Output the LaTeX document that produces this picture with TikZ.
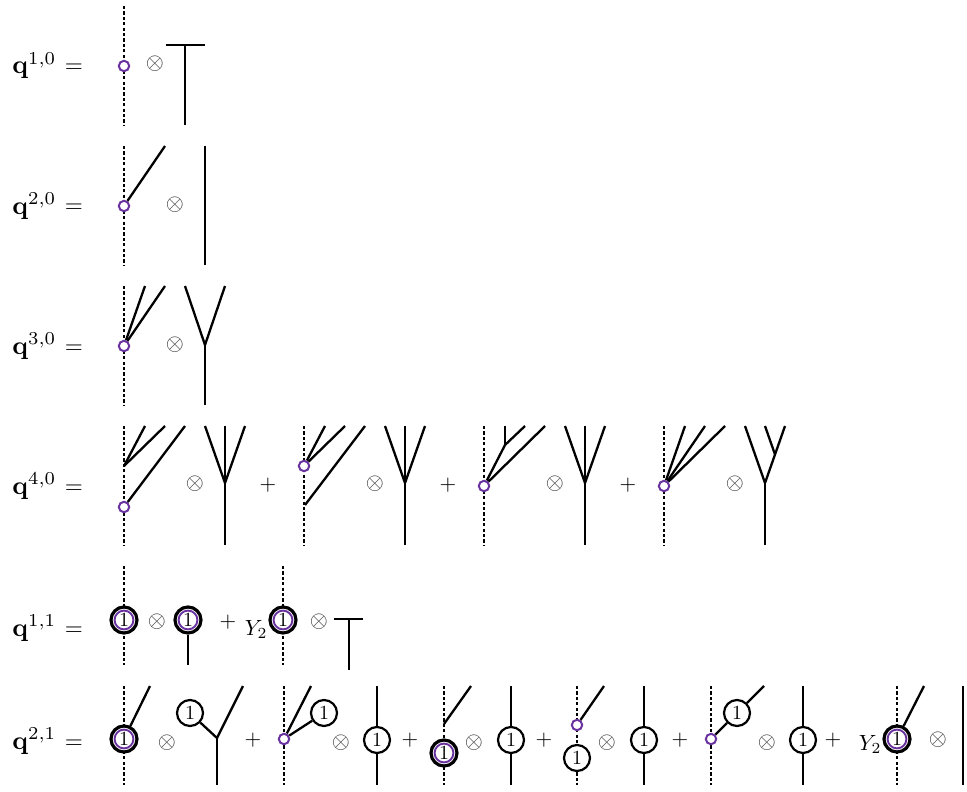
\documentclass[tikz,border=0pt]{standalone}
\usepackage{graphicx}
\definecolor{vio}{HTML}{6A329F}
\newcommand{\lbl}[1]{\scalebox{1.3}{$\mathbf{q}^{#1}$}}
\newcommand{\eqs}{\scalebox{1.16}{$=$}}
\newcommand{\ots}{\scalebox{1.16}{$\otimes$}}
\newcommand{\pls}{\scalebox{1.07}{$+$}}
\newcommand{\yts}{\scalebox{1.1}{$Y_2$}}
\begin{document}
\begin{tikzpicture}[x=0.5pt,y=-0.5pt,
  dl/.style={line width=1pt, dash pattern=on 1.6pt off 1.1pt},
  br/.style={line width=1.15pt},
  pv/.style={circle, draw=vio, fill=white, line width=1pt, minimum size=5.2pt, inner sep=0pt},
  one/.style={circle, draw, fill=white, line width=1.1pt, minimum size=13pt, inner sep=0pt, font=\fontsize{10}{12}\selectfont},
  dbl/.style={one, line width=1.6pt, path picture={\draw[vio,line width=0.95pt] (path picture bounding box.center) circle (4.7pt);}},
  lab/.style={anchor=base west, inner sep=0pt},
  eq/.style={anchor=base, inner sep=0pt},
  ot/.style={inner sep=0pt, text=black!80},
  pl/.style={inner sep=0pt},
  yy/.style={anchor=base east, inner sep=0pt},
  ]
\useasboundingbox (0,0) rectangle (967,791);

% ===== Row 1: q^{1,0}
\node[lab] (q10) at (12,74) {\lbl{1,0}};
\node[eq] (e10) at (74,73) {\eqs};
\coordinate (a1t) at (124,6); \coordinate (a1b) at (124,125);
\draw[dl] (a1t) -- (a1b);
\node[pv] (p10) at (124,66) {};
\node[ot] (o10) at (155,64) {\ots};
\coordinate (t1l) at (166,45); \coordinate (t1r) at (205,45);
\coordinate (t1m) at (185,45); \coordinate (t1b) at (185,125);
\draw[br] (t1l) -- (t1r);
\draw[br] (t1m) -- (t1b);

% ===== Row 2: q^{2,0}
\node[lab] (q20) at (12,214) {\lbl{2,0}};
\node[eq] (e20) at (74,213) {\eqs};
\coordinate (a2t) at (124,146); \coordinate (a2b) at (124,265);
\draw[dl] (a2t) -- (a2b);
\node[pv] (p20) at (124,206) {};
\coordinate (b2a) at (165,146);
\draw[br] (p20) -- (b2a);
\node[ot] (o20) at (175,205) {\ots};
\coordinate (v2t) at (205,146); \coordinate (v2b) at (205,265);
\draw[br] (v2t) -- (v2b);

% ===== Row 3: q^{3,0}
\node[lab] (q30) at (12,354) {\lbl{3,0}};
\node[eq] (e30) at (74,353) {\eqs};
\coordinate (a3t) at (124,286); \coordinate (a3b) at (124,405);
\draw[dl] (a3t) -- (a3b);
\node[pv] (p30) at (124,346) {};
\coordinate (b3a) at (145,286); \coordinate (b3b) at (165,286);
\draw[br] (p30) -- (b3a);
\draw[br] (p30) -- (b3b);
\node[ot] (o30) at (175,345) {\ots};
\coordinate (y3l) at (185,286); \coordinate (y3r) at (225,286);
\coordinate (y3v) at (205,345); \coordinate (y3b) at (205,405);
\draw[br] (y3l) -- (y3v) -- (y3r);
\draw[br] (y3v) -- (y3b);

% ===== Row 4: q^{4,0}
\node[lab] (q40) at (12,494) {\lbl{4,0}};
\node[eq] (e40) at (74,493) {\eqs};
% term A
\coordinate (a4t) at (124,426); \coordinate (a4b) at (124,545);
\draw[dl] (a4t) -- (a4b);
\coordinate (A4v) at (124,466);
\coordinate (A4a) at (145,426); \coordinate (A4b) at (165,426); \coordinate (A4c) at (185,426);
\draw[br] (A4v) -- (A4a);
\draw[br] (A4v) -- (A4b);
\node[pv] (pA4) at (124,507) {};
\draw[br] (pA4) -- (A4c);
\node[ot] (oA4) at (195,484) {\ots};
\coordinate (TA1) at (205,426); \coordinate (TA2) at (225,426); \coordinate (TA3) at (245,426);
\coordinate (TAv) at (225,483); \coordinate (TAb) at (225,545);
\draw[br] (TA1) -- (TAv) -- (TA3);
\draw[br] (TA2) -- (TAb);
\node[pl] (pl4a) at (268,485) {\pls};
% term B
\coordinate (b4t) at (304,426); \coordinate (b4b) at (304,545);
\draw[dl] (b4t) -- (b4b);
\node[pv] (pB4) at (304,466) {};
\coordinate (B4a) at (325,426); \coordinate (B4b) at (345,426); \coordinate (B4c) at (365,426);
\coordinate (B4v) at (305,505);
\draw[br] (pB4) -- (B4a);
\draw[br] (pB4) -- (B4b);
\draw[br] (B4v) -- (B4c);
\node[ot] (oB4) at (375,484) {\ots};
\coordinate (TB1) at (385,426); \coordinate (TB2) at (405,426); \coordinate (TB3) at (425,426);
\coordinate (TBv) at (405,483); \coordinate (TBb) at (405,545);
\draw[br] (TB1) -- (TBv) -- (TB3);
\draw[br] (TB2) -- (TBb);
\node[pl] (pl4b) at (448,485) {\pls};
% term C
\coordinate (c4t) at (484,426); \coordinate (c4b) at (484,545);
\draw[dl] (c4t) -- (c4b);
\node[pv] (pC4) at (484,486) {};
\coordinate (C4v) at (505,445);
\coordinate (C4a) at (505,426); \coordinate (C4b) at (525,426); \coordinate (C4c) at (545,426);
\draw[br] (pC4) -- (C4v);
\draw[br] (C4v) -- (C4a);
\draw[br] (C4v) -- (C4b);
\draw[br] (pC4) -- (C4c);
\node[ot] (oC4) at (555,484) {\ots};
\coordinate (TC1) at (565,426); \coordinate (TC2) at (585,426); \coordinate (TC3) at (605,426);
\coordinate (TCv) at (585,483); \coordinate (TCb) at (585,545);
\draw[br] (TC1) -- (TCv) -- (TC3);
\draw[br] (TC2) -- (TCb);
\node[pl] (pl4c) at (628,485) {\pls};
% term D
\coordinate (d4t) at (664,426); \coordinate (d4b) at (664,545);
\draw[dl] (d4t) -- (d4b);
\node[pv] (pD4) at (664,486) {};
\coordinate (D4a) at (685,426); \coordinate (D4b) at (705,426); \coordinate (D4c) at (725,426);
\draw[br] (pD4) -- (D4a);
\draw[br] (pD4) -- (D4b);
\draw[br] (pD4) -- (D4c);
\node[ot] (oD4) at (735,484) {\ots};
\coordinate (TD1) at (745,426); \coordinate (TD2) at (765,426); \coordinate (TD3) at (785,426);
\coordinate (TDw) at (775,454.5);
\coordinate (TDv) at (765,483); \coordinate (TDb) at (765,545);
\draw[br] (TD1) -- (TDv) -- (TD3);
\draw[br] (TDw) -- (TD2);
\draw[br] (TDv) -- (TDb);

% ===== Row 5: q^{1,1}
\node[lab] (q11) at (12,636) {\lbl{1,1}};
\node[eq] (e11) at (74,635) {\eqs};
\coordinate (a5t) at (124,566); \coordinate (a5b) at (124,665);
\draw[dl] (a5t) -- (a5b);
\node[dbl] (D51) at (124,620) {1};
\node[ot] (o51) at (157,622) {\ots};
\node[dbl] (D52) at (188,620) {1};
\coordinate (D52b) at (188,665);
\draw[br] (D52) -- (D52b);
\node[pl] (pl5) at (228,622) {\pls};
\coordinate (c5t) at (283,566); \coordinate (c5b) at (283,665);
\draw[dl] (c5t) -- (c5b);
\node[dbl] (D53) at (283,620) {1};
\node[yy] (Y5) at (268,635) {\yts};
\node[ot] (o52) at (319,622) {\ots};
\coordinate (t5l) at (334,619); \coordinate (t5r) at (363,619);
\coordinate (t5m) at (349,619); \coordinate (t5b) at (349,670);
\draw[br] (t5l) -- (t5r);
\draw[br] (t5m) -- (t5b);

% ===== Row 6: q^{2,1}
\node[lab] (q21) at (12,749) {\lbl{2,1}};
\node[eq] (e21) at (74,748) {\eqs};
% term 1
\coordinate (a6t) at (124,686); \coordinate (a6b) at (124,785);
\draw[dl] (a6t) -- (a6b);
\node[dbl] (D61) at (124,739) {1};
\coordinate (D61e) at (150,686);
\draw[br] (D61) -- (D61e);
\node[ot] (o61) at (167,743) {\ots};
\node[one] (O61) at (190,713) {1};
\coordinate (Y6v) at (217,738); \coordinate (Y6r) at (243,686); \coordinate (Y6b) at (217,785);
\draw[br] (O61) -- (Y6v);
\draw[br] (Y6v) -- (Y6r);
\draw[br] (Y6v) -- (Y6b);
\node[pl] (pl61) at (253,740) {\pls};
% term 2
\coordinate (b6t) at (284,686); \coordinate (b6b) at (284,785);
\draw[dl] (b6t) -- (b6b);
\node[pv] (p62) at (284,739) {};
\coordinate (p62e) at (311,686);
\node[one] (O62) at (324,713) {1};
\draw[br] (p62) -- (p62e);
\draw[br] (p62) -- (O62);
\node[ot] (o62) at (341,743) {\ots};
\coordinate (v62t) at (377,686); \coordinate (v62b) at (377,785);
\draw[br] (v62t) -- (v62b);
\node[one] (O62b) at (377,740) {1};
\node[pl] (pl62) at (410,740) {\pls};
% term 3
\coordinate (c6t) at (444,686); \coordinate (c6b) at (444,785);
\draw[dl] (c6t) -- (c6b);
\node[dbl] (D63) at (444,753) {1};
\coordinate (c6s) at (444,724); \coordinate (c6e) at (471,686);
\draw[br] (c6s) -- (c6e);
\node[ot] (o63) at (474,743) {\ots};
\coordinate (v63t) at (511,686); \coordinate (v63b) at (511,785);
\draw[br] (v63t) -- (v63b);
\node[one] (O63) at (511,740) {1};
\node[pl] (pl63) at (544,740) {\pls};
% term 4
\coordinate (d6t) at (577,686); \coordinate (d6b) at (577,785);
\draw[dl] (d6t) -- (d6b);
\node[pv] (p64) at (577,725) {};
\coordinate (p64e) at (604,686);
\draw[br] (p64) -- (p64e);
\node[one] (O64) at (577,758) {1};
\node[ot] (o64) at (607,743) {\ots};
\coordinate (v64t) at (644,686); \coordinate (v64b) at (644,785);
\draw[br] (v64t) -- (v64b);
\node[one] (O64b) at (644,740) {1};
\node[pl] (pl64) at (680,740) {\pls};
% term 5
\coordinate (e6t) at (711,686); \coordinate (e6b) at (711,785);
\draw[dl] (e6t) -- (e6b);
\node[pv] (p65) at (711,739) {};
\node[one] (O65) at (737,713) {1};
\coordinate (O65e) at (764,686);
\draw[br] (p65) -- (O65);
\draw[br] (O65) -- (O65e);
\node[ot] (o65) at (767,743) {\ots};
\coordinate (v65t) at (803,686); \coordinate (v65b) at (803,785);
\draw[br] (v65t) -- (v65b);
\node[one] (O65b) at (803,740) {1};
\node[pl] (pl65) at (833,740) {\pls};
% term 6
\coordinate (f6t) at (897,686); \coordinate (f6b) at (897,785);
\draw[dl] (f6t) -- (f6b);
\node[dbl] (D66) at (897,739) {1};
\node[yy] (Y6) at (882,750) {\yts};
\coordinate (D66e) at (924,686);
\draw[br] (D66) -- (D66e);
\node[ot] (o66) at (938,740) {\ots};
\coordinate (v66t) at (963,686); \coordinate (v66b) at (963,785);
\draw[br] (v66t) -- (v66b);
\end{tikzpicture}
\end{document}
